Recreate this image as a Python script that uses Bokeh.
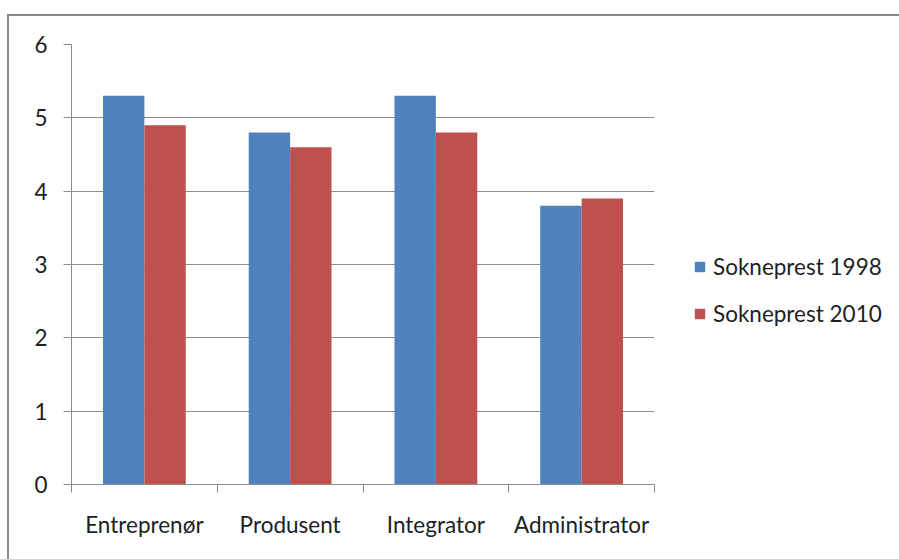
from bokeh.plotting import figure
from bokeh.models import (ColumnDataSource, Range1d, FixedTicker, Legend, LegendItem)
from bokeh.embed import file_html
from bokeh.resources import INLINE

# Role scores per category, two survey years
categories = ["Entreprenør", "Produsent", "Integrator", "Administrator"]
series_names = ["Sokneprest 1998", "Sokneprest 2010"]
values_1998 = [5.3, 4.8, 5.3, 3.8]
values_2010 = [4.9, 4.6, 4.8, 3.9]
y_ticks = [0, 1, 2, 3, 4, 5, 6]

BLUE = "#4F81BD"
RED = "#C0504D"
GRID = "#8C8C8C"
FONT = "Lato"
FONT_SIZE = "22.5px"

bar_w = 0.284
centers = [i + 0.5 for i in range(len(categories))]

src_a = ColumnDataSource(dict(x=[c - bar_w / 2 for c in centers], top=values_1998))
src_b = ColumnDataSource(dict(x=[c + bar_w / 2 for c in centers], top=values_2010))

p = figure(
    width=890, height=543,
    frame_width=583, frame_height=440,
    x_range=Range1d(0, len(categories)),
    y_range=Range1d(0, 6),
    output_backend="svg",
    toolbar_location=None,
    min_border_left=62, min_border_right=245,
    min_border_top=28, min_border_bottom=75,
)
p.margin = (14, 0, 0, 7)
p.styles = {"border-top": "2px solid #8A8A8A", "border-left": "2px solid #8A8A8A"}
p.outline_line_color = None
p.background_fill_color = "white"
p.border_fill_color = "white"

r_a = p.vbar(x="x", top="top", width=bar_w, bottom=0, source=src_a,
             fill_color=BLUE, line_color=None)
r_b = p.vbar(x="x", top="top", width=bar_w, bottom=0, source=src_b,
             fill_color=RED, line_color=None)

# y axis: outward ticks, horizontal grid
p.yaxis.ticker = FixedTicker(ticks=y_ticks)
p.yaxis.axis_line_color = GRID
p.yaxis.major_tick_line_color = GRID
p.yaxis.major_tick_out = 8
p.yaxis.major_tick_in = 0
p.yaxis.minor_tick_line_color = None
p.yaxis.major_label_standoff = 16
p.yaxis.major_label_text_font = FONT
p.yaxis.major_label_text_font_size = FONT_SIZE
p.yaxis.major_label_text_color = "#1E1E1E"
p.ygrid.ticker = FixedTicker(ticks=y_ticks)
p.ygrid.grid_line_color = GRID
p.ygrid.grid_line_width = 1
p.xgrid.grid_line_color = None

# x axis: boundary ticks (minor) with labels centred on each category
p.xaxis.ticker = FixedTicker(ticks=centers,
                             minor_ticks=list(range(len(categories) + 1)))
p.xaxis.major_label_overrides = {c: name for c, name in zip(centers, categories)}
p.xaxis.major_tick_line_color = None
p.xaxis.major_tick_out = 0
p.xaxis.major_tick_in = 0
p.xaxis.minor_tick_line_color = GRID
p.xaxis.minor_tick_out = 8
p.xaxis.minor_tick_in = 0
p.xaxis.axis_line_color = GRID
p.xaxis.major_label_standoff = 18
p.xaxis.major_label_text_font = FONT
p.xaxis.major_label_text_font_size = FONT_SIZE
p.xaxis.major_label_text_color = "#1E1E1E"

legend = Legend(
    items=[LegendItem(label=series_names[0], renderers=[r_a]),
           LegendItem(label=series_names[1], renderers=[r_b])],
    location=(39, 157),
    glyph_width=13, glyph_height=13,
    label_standoff=7, spacing=20,
    padding=0, margin=0,
    border_line_color=None, background_fill_alpha=0,
    label_text_font=FONT, label_text_font_size=FONT_SIZE,
    label_text_color="#1E1E1E",
)
p.add_layout(legend, "right")

open("out.html", "w").write(file_html(p, INLINE))
